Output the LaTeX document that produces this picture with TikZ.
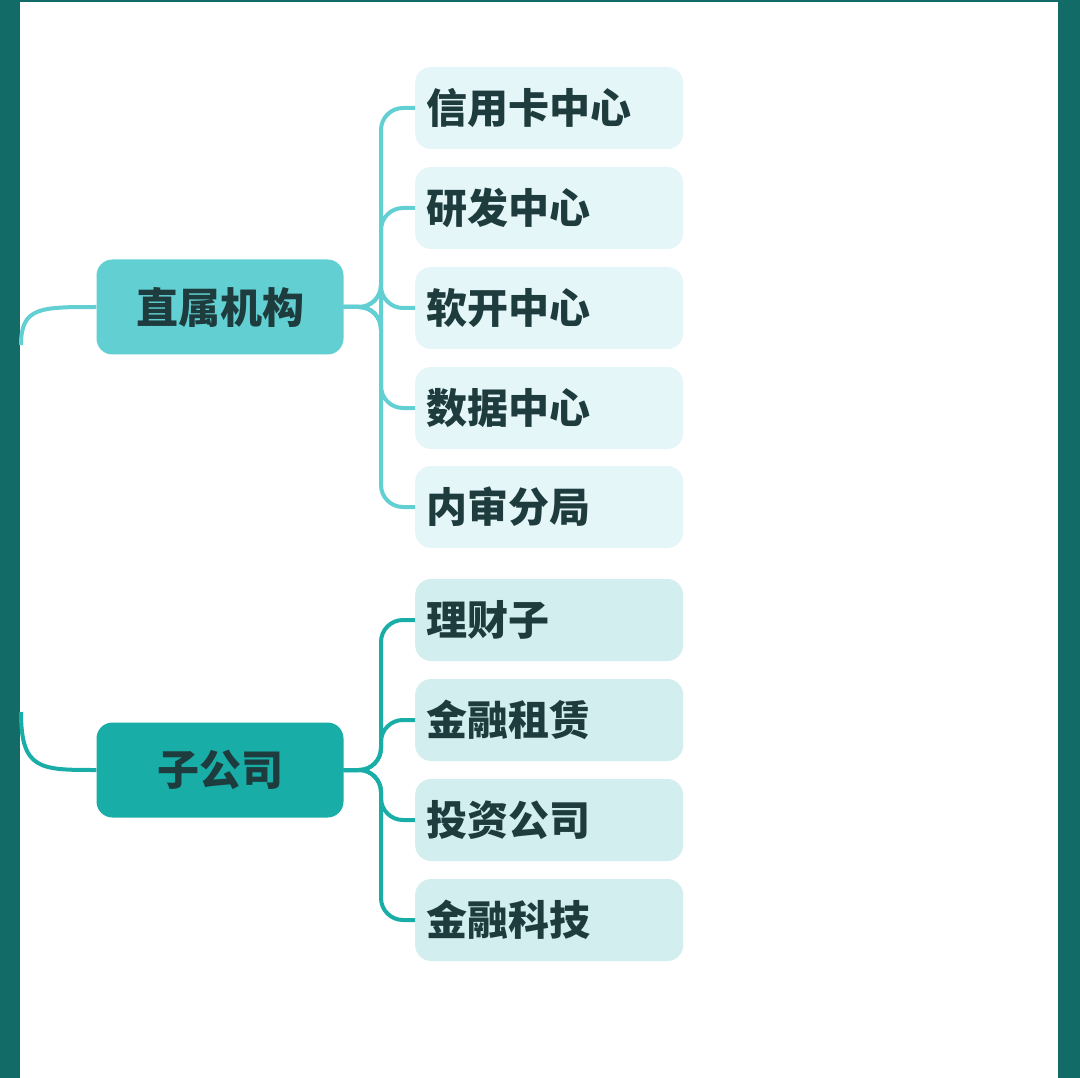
\documentclass[tikz,border=0pt]{standalone}
\usepackage{fontspec}
\newfontfamily\cjk{Noto Sans CJK SC}
\definecolor{frame}{HTML}{136B68}
\definecolor{upc}{HTML}{62D0D2}
\definecolor{loc}{HTML}{18ADA6}
\definecolor{upl}{HTML}{E4F6F8}
\definecolor{lol}{HTML}{D2EEEE}
\definecolor{txt}{HTML}{1E3B3D}
\begin{document}
\begin{tikzpicture}[x=1pt,y=-1pt,
  par/.style={rounded corners=16pt,minimum width=247pt,minimum height=95pt,font=\cjk\bfseries\fontsize{42}{46}\selectfont,text=txt},
  kid/.style={rounded corners=16pt,minimum width=268pt,minimum height=82pt,anchor=west,text width=246pt,inner xsep=11pt,align=left,font=\cjk\bfseries\fontsize{41}{44}\selectfont,text=txt},
  up/.style={draw=upc,line width=4pt,rounded corners=22pt},
  lo/.style={draw=loc,line width=4pt,rounded corners=22pt}]
\fill[frame] (0,0) rectangle (1080,1078);
\fill[white] (20,2) rectangle (1058,1078);
\useasboundingbox (0,0) rectangle (1080,1078);
\node[par,fill=upc] (p1) at (220,307) {直属机构};
\node[par,fill=loc] (p2) at (220,770) {子公司};
\coordinate (l1) at (21,345);
\coordinate (l2) at (21,712);
\draw[up] (l1) .. controls (21,307) and (40,307) .. (p1.west);
\draw[lo] (l2) .. controls (21,770) and (40,770) .. (p2.west);
\foreach \n/\y/\t in {a/108/信用卡中心,b/208/研发中心,c/308/软开中心,d/408/数据中心,e/507/内审分局}{
  \node[kid,fill=upl] (\n) at (415,\y) {\t};
  \draw[up] (p1.east) -- (381,307) -- (381,\y) -- (\n.west);
}
\foreach \n/\y/\t in {f/620/理财子,g/720/金融租赁,h/820/投资公司,i/920/金融科技}{
  \node[kid,fill=lol] (\n) at (415,\y) {\t};
  \draw[lo] (p2.east) -- (381,770) -- (381,\y) -- (\n.west);
}
\end{tikzpicture}
\end{document}
